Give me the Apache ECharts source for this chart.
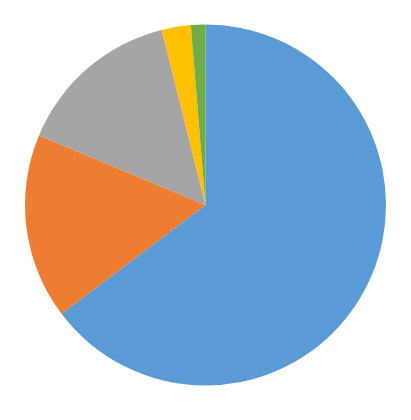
<!DOCTYPE html>
<html>
<head>
<meta charset="utf-8">
<script src="https://cdn.jsdelivr.net/npm/echarts@6/dist/echarts.min.js"></script>
<style>html,body{margin:0;padding:0;background:#fff}#c{width:411px;height:420px}</style>
</head>
<body>
<div id="c"></div>
<script>
const categories = ['A', 'B', 'C', 'D', 'E'];
const values = [64.7, 16.6, 14.8, 2.6, 1.3];
const colors = ['#5B9BD5', '#ED7D31', '#A5A5A5', '#FFC000', '#70AD47'];

const chart = echarts.init(document.getElementById('c'), null, {renderer: 'canvas'});
chart.setOption({
  animation: false,
  backgroundColor: '#fff',
  series: [{
    type: 'pie',
    center: [205.5, 205],
    radius: 180.5,
    startAngle: 90,
    clockwise: true,
    label: {show: false},
    labelLine: {show: false},
    itemStyle: {borderWidth: 0},
    emphasis: {disabled: true},
    data: categories.map((c, i) => ({name: c, value: values[i], itemStyle: {color: colors[i]}}))
  }]
});
</script>
</body>
</html>
